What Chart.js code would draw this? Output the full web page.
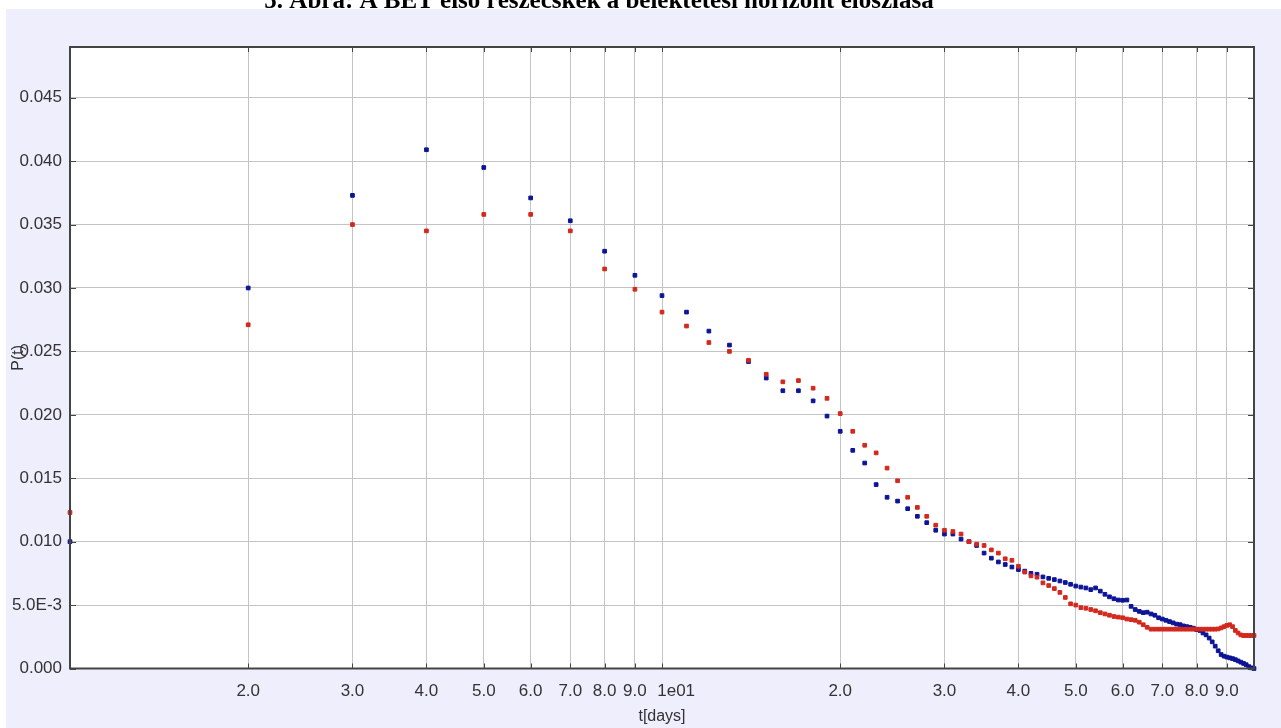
<!DOCTYPE html>
<html>
<head>
<meta charset="utf-8">
<title>5. Ábra</title>
<script src="https://cdn.jsdelivr.net/npm/chart.js@4/dist/chart.umd.min.js"></script>
<style>
  html, body { margin: 0; padding: 0; background: #fff; overflow: hidden; }
  #chart { display: block; }
</style>
</head>
<body>
<canvas id="chart" width="1281" height="728"></canvas>
<script>
const titleText = '5. Ábra: A BET első részecskék a belektetési horizont eloszlása';
const xTitle = 't[days]';
const yTitle = 'P(t)';

const days = [
  1, 2, 3, 4, 5, 6, 7, 8, 9, 10, 11, 12, 13, 14, 15, 16, 17, 18, 19, 20,
  21, 22, 23, 24, 25, 26, 27, 28, 29, 30, 31, 32, 33, 34, 35, 36, 37, 38, 39, 40,
  41, 42, 43, 44, 45, 46, 47, 48, 49, 50, 51, 52, 53, 54, 55, 56, 57, 58, 59, 60,
  61, 62, 63, 64, 65, 66, 67, 68, 69, 70, 71, 72, 73, 74, 75, 76, 77, 78, 79, 80,
  81, 82, 83, 84, 85, 86, 87, 88, 89, 90, 91, 92, 93, 94, 95, 96, 97, 98, 99, 100
];

const redValues = [
  0.0123, 0.0271, 0.0350, 0.0345, 0.0358, 0.0358, 0.0345, 0.0315, 0.0299, 0.0281,
  0.0270, 0.0257, 0.0250, 0.0243, 0.0232, 0.0226, 0.0227, 0.0221, 0.0213, 0.0201,
  0.0187, 0.0176, 0.0170, 0.0158, 0.0148, 0.0135, 0.0127, 0.0120, 0.0113, 0.0109,
  0.0108, 0.0106, 0.0100, 0.0098, 0.0097, 0.00935, 0.0091, 0.00865, 0.00853, 0.00806,
  0.0076, 0.0073, 0.0072, 0.00675, 0.00654, 0.0063, 0.0060, 0.0056, 0.0051, 0.0050,
  0.0048, 0.00475, 0.00465, 0.00455, 0.0044, 0.0043, 0.0042, 0.0041, 0.00405, 0.0040,
  0.0039, 0.00385, 0.0038, 0.00365, 0.00345, 0.00325, 0.0031, 0.0031, 0.0031, 0.0031,
  0.0031, 0.0031, 0.0031, 0.0031, 0.0031, 0.0031, 0.0031, 0.0031, 0.0031, 0.0031,
  0.0031, 0.0031, 0.0031, 0.0031, 0.0031, 0.0031, 0.00312, 0.0032, 0.0033, 0.0034,
  0.00345, 0.0033, 0.0030, 0.0028, 0.00265, 0.0026, 0.0026, 0.0026, 0.0026, 0.0026
];

const blueValues = [
  0.0100, 0.0300, 0.0373, 0.0409, 0.0395, 0.0371, 0.0353, 0.0329, 0.0310, 0.0294,
  0.0281, 0.0266, 0.0255, 0.0242, 0.0229, 0.0219, 0.0219, 0.0211, 0.0199, 0.0187,
  0.0172, 0.0162, 0.0145, 0.0135, 0.0132, 0.0126, 0.0120, 0.0115, 0.0109, 0.0106,
  0.0106, 0.0102, 0.0100, 0.0097, 0.0091, 0.0087, 0.0084, 0.0082, 0.0080, 0.0078,
  0.00768, 0.0075, 0.00743, 0.00722, 0.00711, 0.00701, 0.0069, 0.00678, 0.00664, 0.0065,
  0.00642, 0.00635, 0.00622, 0.00635, 0.0061, 0.00585, 0.00565, 0.0055, 0.0054, 0.00538,
  0.0054, 0.0049, 0.00465, 0.0045, 0.0044, 0.00444, 0.0043, 0.0042, 0.0040, 0.0039,
  0.0038, 0.0037, 0.0036, 0.0035, 0.00346, 0.00336, 0.0033, 0.00325, 0.00318, 0.00307,
  0.0030, 0.0028, 0.00265, 0.0024, 0.0021, 0.00176, 0.0014, 0.0011, 0.00097, 0.0009,
  0.00084, 0.00078, 0.0007, 0.0006, 0.0005, 0.0004, 0.0003, 0.00015, 0.00005, 0.0
];

const xTickValues = [2, 3, 4, 5, 6, 7, 8, 9, 10, 20, 30, 40, 50, 60, 70, 80, 90];
const xTickLabels = ['2.0', '3.0', '4.0', '5.0', '6.0', '7.0', '8.0', '9.0', '      1e01',
  '2.0', '3.0', '4.0', '5.0', '6.0', '7.0', '8.0', '9.0'];
const yTickValues = [0, 0.005, 0.010, 0.015, 0.020, 0.025, 0.030, 0.035, 0.040, 0.045];
const yTickLabels = ['0.000', '5.0E-3', '0.010', '0.015', '0.020', '0.025', '0.030', '0.035', '0.040', '0.045'];

(function () {
  'use strict';

  const FONT = '"Liberation Sans", Arial, sans-serif';
  const TEXT = '#333333';
  const toPoints = (values) => values.map((v, i) => ({ x: days[i], y: v }));

  const framePlugin = {
    id: 'frame',
    beforeDraw(chart) {
      const { ctx, chartArea: a, width, height } = chart;
      ctx.save();
      ctx.fillStyle = '#ffffff';
      ctx.fillRect(0, 0, width, height);
      ctx.fillStyle = '#eeeefc';
      ctx.fillRect(6, 9, width - 6, height - 9);
      ctx.fillStyle = '#ffffff';
      ctx.fillRect(a.left, a.top, a.right - a.left, a.bottom - a.top);
      // title is cut off by the top edge, as in the original figure
      ctx.fillStyle = '#000000';
      ctx.font = 'bold 25px "Liberation Serif", "Times New Roman", serif';
      ctx.textAlign = 'center';
      ctx.textBaseline = 'alphabetic';
      ctx.fillText(titleText, 599, 8);
      ctx.restore();
    },
    afterDraw(chart) {
      const { ctx, chartArea: a, scales } = chart;
      ctx.save();
      ctx.strokeStyle = '#444444';
      ctx.lineWidth = 1;
      ctx.beginPath();
      xTickValues.forEach((v) => {
        const x = Math.round(scales.x.getPixelForValue(v)) + 0.5;
        ctx.moveTo(x, a.bottom); ctx.lineTo(x, a.bottom - 5);
        ctx.moveTo(x, a.top); ctx.lineTo(x, a.top + 5);
      });
      yTickValues.forEach((v) => {
        const y = Math.round(scales.y.getPixelForValue(v)) + 0.5;
        ctx.moveTo(a.left, y); ctx.lineTo(a.left + 6, y);
        ctx.moveTo(a.right, y); ctx.lineTo(a.right - 6, y);
      });
      ctx.stroke();
      ctx.lineWidth = 2;
      ctx.strokeRect(a.left, a.top, a.right - a.left, a.bottom - a.top);

      ctx.fillStyle = TEXT;
      ctx.font = '16px ' + FONT;
      ctx.textAlign = 'center';
      ctx.textBaseline = 'middle';
      ctx.fillText(xTitle, (a.left + a.right) / 2, 717);
      ctx.translate(19, (a.top + a.bottom) / 2);
      ctx.rotate(-Math.PI / 2);
      ctx.fillText(yTitle, 0, 0);
      ctx.restore();
    }
  };

  function init() {
    const ctx = document.getElementById('chart').getContext('2d');
    new Chart(ctx, {
      type: 'scatter',
      data: {
        datasets: [
          {
            label: 'red',
            data: toPoints(redValues),
            backgroundColor: '#d3281e',
            borderColor: '#d3281e',
            borderWidth: 1,
            pointStyle: 'rect',
            pointRadius: 2.6,
            clip: false
          },
          {
            label: 'blue',
            data: toPoints(blueValues),
            backgroundColor: '#0c1496',
            borderColor: '#0c1496',
            borderWidth: 1,
            pointStyle: 'rect',
            pointRadius: 2.6,
            clip: false
          }
        ]
      },
      options: {
        responsive: false,
        animation: false,
        devicePixelRatio: 1,
        layout: { padding: { top: 47, right: 27, left: 0, bottom: 0 } },
        plugins: { legend: { display: false }, tooltip: { enabled: false } },
        scales: {
          x: {
            type: 'logarithmic',
            min: 1,
            max: 100,
            afterBuildTicks: (scale) => { scale.ticks = xTickValues.map((v) => ({ value: v })); },
            afterFit: (scale) => { scale.height = 59.5; },
            grid: { color: '#c4c4c4', lineWidth: 1, drawTicks: false },
            border: { display: false },
            ticks: {
              autoSkip: false,
              maxRotation: 0,
              padding: 13,
              color: TEXT,
              font: { family: FONT, size: 17 },
              callback: (value) => {
                const i = xTickValues.indexOf(value);
                return i >= 0 ? xTickLabels[i] : '';
              }
            }
          },
          y: {
            min: 0,
            max: 0.049,
            afterBuildTicks: (scale) => { scale.ticks = yTickValues.map((v) => ({ value: v })); },
            afterFit: (scale) => { scale.width = 70; },
            grid: { color: '#c4c4c4', lineWidth: 1, drawTicks: false },
            border: { display: false },
            ticks: {
              autoSkip: false,
              padding: 8,
              color: TEXT,
              font: { family: FONT, size: 17 },
              callback: (value) => {
                const i = yTickValues.findIndex((v) => Math.abs(v - value) < 1e-9);
                return i >= 0 ? yTickLabels[i] : '';
              }
            }
          }
        }
      },
      plugins: [framePlugin]
    });
  }

  document.addEventListener('DOMContentLoaded', init);
})();
</script>
</body>
</html>
